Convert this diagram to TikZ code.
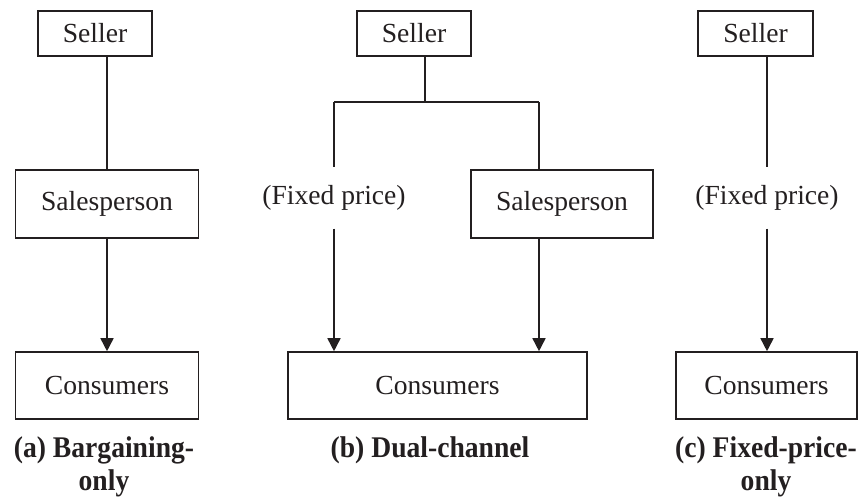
\documentclass[tikz,border=0pt]{standalone}
\usepackage{fontspec}
\setmainfont{Liberation Serif}
\newfontfamily\capfont[FakeStretch=0.92]{Liberation Serif}
\usetikzlibrary{arrows.meta, positioning}
\definecolor{ink}{RGB}{35,31,32}

\begin{document}
\begin{tikzpicture}[x=1pt, y=-1pt,
  box/.style={rectangle, draw=ink, line width=1.6pt, inner sep=0pt, text=ink,
              font=\fontsize{27.6}{33}\selectfont},
  tag/.style={inner sep=0pt, minimum height=61pt, text=ink,
              font=\fontsize{27.6}{33}\selectfont},
  caption/.style={align=center, anchor=base, text=ink,
                  font=\capfont\bfseries\fontsize{30}{33}\selectfont},
  link/.style={draw=ink, line width=1.6pt},
  arrow/.style={link, -{Triangle[length=13pt, width=13pt]}}
]
\useasboundingbox (0,0) rectangle (858,496);

% (a) bargaining only
\node[box, minimum width=114pt, minimum height=45pt] (sellerA) at (95,33.5) {Seller};
\node[box, minimum width=183pt, minimum height=68pt] (salesA) at (107,204) {Salesperson};
\node[box, minimum width=183pt, minimum height=67pt] (consA) at (107,385.5) {Consumers};
\draw[link] (sellerA.south -| salesA.north) -- (salesA.north);
\draw[arrow] (salesA.south) -- (consA.north);
\node[caption] (capA) at (104,490) {(a) Bargaining-\\only};

% (b) dual channel
\node[box, minimum width=114pt, minimum height=45pt] (sellerB) at (414,33.5) {Seller};
\node[box, minimum width=182pt, minimum height=68pt] (salesB) at (562,204) {Salesperson};
\node[box, minimum width=299pt, minimum height=67pt] (consB) at (437.5,385.5) {Consumers};
\coordinate (splitB) at (425,102);
\coordinate (leftB) at (334,102);
\coordinate (rightB) at (539,102);
\node[tag] (fixB) at (334,198) {(Fixed price)};
\draw[link] (sellerB.south -| splitB) -- (splitB);
\draw[link] (leftB) -- (rightB);
\draw[link] (leftB) -- (fixB.north);
\draw[arrow] (fixB.south) -- (fixB.south |- consB.north);
\draw[link] (rightB) -- (rightB |- salesB.north);
\draw[arrow] (salesB.south -| rightB) -- (rightB |- consB.north);
\node[caption] (capB) at (430,457) {(b) Dual-channel};

% (c) fixed price only
\node[box, minimum width=115pt, minimum height=45pt] (sellerC) at (755.5,33.5) {Seller};
\node[box, minimum width=181pt, minimum height=67pt] (consC) at (766.5,385.5) {Consumers};
\node[tag] (fixC) at (767,198) {(Fixed price)};
\draw[link] (sellerC.south -| fixC) -- (fixC.north);
\draw[arrow] (fixC.south) -- (fixC.south |- consC.north);
\node[caption] (capC) at (766,490) {(c) Fixed-price-\\only};
\end{tikzpicture}
\end{document}
